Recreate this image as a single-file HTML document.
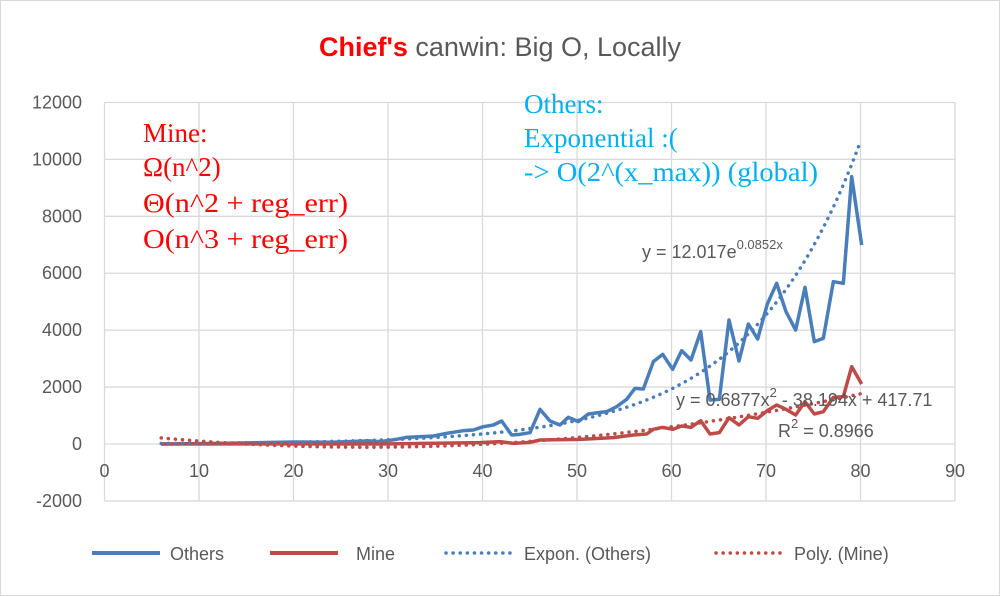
<!DOCTYPE html>
<html><head><meta charset="utf-8"><style>
body{margin:0;background:#fff}
svg{display:block}
</style></head><body>
<svg id="s" width="1000" height="596" xmlns="http://www.w3.org/2000/svg" font-family="Liberation Sans, sans-serif">
<rect x="0.5" y="0.5" width="999" height="595" fill="#fff" stroke="#d9d9d9"/>
<g stroke="#d9d9d9" stroke-width="1.3" id="grid"></g>
<text x="500" y="56" text-anchor="middle" font-size="27" fill="#595959"><tspan fill="#ff0000" font-weight="bold">Chief's</tspan> canwin: Big O, Locally</text>
<g font-size="18" fill="#595959" text-anchor="end" id="ylab"></g>
<g font-size="18" fill="#595959" text-anchor="middle" id="xlab"></g>
<g id="series"></g>
<g font-family="Liberation Serif, serif" font-size="27" fill="#ff0000">
<text x="143" y="142">Mine:</text>
<text x="143" y="176">Ω(n^2)</text>
<text x="143" y="212" textLength="205" lengthAdjust="spacingAndGlyphs">Θ(n^2 + reg_err)</text>
<text x="143" y="248" textLength="205" lengthAdjust="spacingAndGlyphs">O(n^3 + reg_err)</text>
</g>
<g font-family="Liberation Serif, serif" font-size="27" fill="#00b0f0">
<text x="524" y="113">Others:</text>
<text x="524" y="147">Exponential  :(</text>
<text x="524" y="181" textLength="294" lengthAdjust="spacingAndGlyphs">-&gt; O(2^(x_max)) (global)</text>
</g>
<g font-size="18" fill="#595959">
<text x="642" y="258">y = 12.017e<tspan font-size="13" dy="-9">0.0852x</tspan></text>
<text x="676" y="406">y = 0.6877x<tspan font-size="13" dy="-9">2</tspan><tspan dy="9"> - 38.194x + 417.71</tspan></text>
<text x="778" y="437">R<tspan font-size="13" dy="-9">2</tspan><tspan dy="9"> = 0.8966</tspan></text>
</g>
<g font-size="18" fill="#595959">
<line x1="92" y1="553" x2="160" y2="553" stroke="#4a7ebb" stroke-width="4"/>
<text x="170" y="560">Others</text>
<line x1="270" y1="553" x2="338" y2="553" stroke="#be4b48" stroke-width="4"/>
<text x="356" y="560">Mine</text>
<line x1="446" y1="553" x2="514" y2="553" stroke="#4a7ebb" stroke-width="3.5" stroke-dasharray="0.1 7" stroke-linecap="round"/>
<text x="524" y="560">Expon. (Others)</text>
<line x1="716" y1="553" x2="784" y2="553" stroke="#be4b48" stroke-width="3.5" stroke-dasharray="0.1 7" stroke-linecap="round"/>
<text x="794" y="560">Poly. (Mine)</text>
</g>
</svg>
<script>
var NS="http://www.w3.org/2000/svg";
function X(x){return 104.5+x*9.45}
function Y(v){return 444-v*0.02846}
function el(p,t,a){var e=document.createElementNS(NS,t);for(var k in a)e.setAttribute(k,a[k]);document.getElementById(p).appendChild(e);return e}
for(var v=-2000;v<=12000;v+=2000){el("grid","line",{x1:104.5,x2:955,y1:Y(v),y2:Y(v)});var t=el("ylab","text",{x:82,y:Y(v)+6});t.textContent=v;}
for(var x=0;x<=90;x+=10){el("grid","line",{x1:X(x),x2:X(x),y1:Y(12000),y2:Y(-2000)});var t=el("xlab","text",{x:X(x),y:477});t.textContent=x;}
var e="",p="";
for(var x=6;x<=80;x+=0.5){e+=X(x)+","+Y(12.017*Math.exp(0.0852*x)*0.97)+" ";p+=X(x)+","+Y(0.6877*x*x-38.194*x+417.71)+" ";}
function conv(a){return a.map(function(q){return (380+q[0]/3)+","+(160+q[1]/3)}).join(" ")}
var bl=[[0,845],[50,838],[80,832],[160,828],[200,820],[250,812],[280,810],[310,800],[340,795],[365,783],[395,825],[420,823],[450,818],[480,748],[510,783],[540,795],[565,772],[595,785],[625,762],[655,758],[680,755],[710,740],[740,718],[765,685],[790,687],[820,605],[848,583],[878,628],[905,572],[933,600],[962,515],[990,720],[1018,718],[1047,480],[1077,603],[1105,492],[1133,537],[1162,432],[1190,370],[1218,455],[1247,510],[1275,382],[1303,545],[1330,535],[1360,365],[1390,370],[1415,50],[1445,255]];
var rd=[[0,852],[300,848],[360,845],[400,850],[450,847],[480,840],[600,838],[700,833],[760,825],[800,822],[820,808],[848,802],[878,808],[905,798],[933,802],[962,782],[990,822],[1018,818],[1047,773],[1077,795],[1105,770],[1133,775],[1162,752],[1190,735],[1218,748],[1247,765],[1275,725],[1303,762],[1330,755],[1360,712],[1390,710],[1415,620],[1445,672]];
var bpre=X(6)+","+Y(0)+" "+X(12)+","+Y(20)+" "+X(20)+","+Y(70)+" "+X(24)+","+Y(60)+" "+X(28)+","+Y(110)+" ";
var rpre=X(6)+","+Y(0)+" "+X(20)+","+Y(5)+" ";
el("series","polyline",{points:bpre+conv(bl),fill:"none",stroke:"#4a7ebb","stroke-width":3.5,"stroke-linejoin":"round"});
el("series","polyline",{points:rpre+conv(rd),fill:"none",stroke:"#be4b48","stroke-width":3.5,"stroke-linejoin":"round"});
el("series","polyline",{points:e,fill:"none",stroke:"#4a7ebb","stroke-width":3.5,"stroke-dasharray":"0.1 7","stroke-linecap":"round"});
el("series","polyline",{points:p,fill:"none",stroke:"#be4b48","stroke-width":3.5,"stroke-dasharray":"0.1 7","stroke-linecap":"round"});
</script>
</body></html>
